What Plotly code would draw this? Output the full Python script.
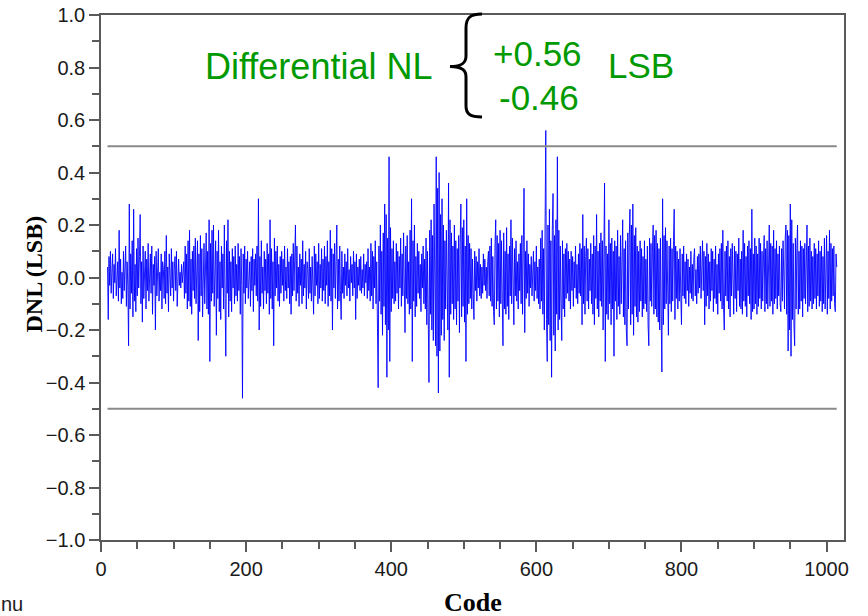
import plotly.graph_objects as go

# DNL per code, in hundredths of an LSB (codes 9 .. 1014)
dnl_centi_lsb = [
    4, -16, 8, -3, 10, -6, 2, 9, -8, 5, -2, 11, -7, 3, 6, -9, 18, -4, 7, -10,
    2, -8, 10, -5, 4, 12, -11, 6, -3, -26, 28, -12, 9, -6, 14, -15, 26, -9, 5, -13,
    11, -7, 15, -4, 8, 24, -10, 6, -17, 12, -8, 3, 10, -12, 7, -5, 13, -9, 4, 9,
    -6, 12, -14, 5, -3, 8, -20, 10, -7, 4, 11, -9, 2, -5, 9, -12, 6, 3, -8, 10,
    -10, 16, -6, 4, -13, 9, 2, -7, 11, -4, 6, -9, 3, 8, -5, 10, -11, 4, 7, -3,
    2, -4, 5, -2, 3, 6, -8, 12, -6, 9, -12, 14, -9, 18, -11, 7, -14, 10, -5,
    12, -8, 15, -10, 6, 14, -24, 9, -13, 16, -7, 11, -15, 8, 13, -10, 5, 17, -12, 10,
    -14, 22, -32, 13, -9, 18, -6, 20, -11, 7, 14, -22, 10, -8, 18, -13, 6, -16, 12, -4,
    9, -12, 20, -8, -30, 14, -6, 22, -15, 10, -9, 6, -13, 11, -4, 8, -10, 12, -7, 5,
    -9, 13, -5, 8, -14, 11, -3, -46, 9, -6, 12, -10, 7, -4, 10, -8, 3, 6, -11, 8,
    -5, 11, -13, 7, -3, 9, -7, 12, -9, 30, -20, 8, -11, 14, -6, 4, -12, 10, -5, 7,
    -10, 13, -6, 9, -14, 22, -8, 11, -12, 6, -26, 15, -7, 10, -4, 12, -9, 5, -11, 8,
    -6, 10, -3, 7, -9, 12, -5, 4, -8, 11, -4, 6, -10, 8, -14, 9, -7, 13, -5,
    8, 20, -9, 12, -6, 4, -11, 9, -3, 7, -10, 14, -7, 5, -4, 10, -12, 6, 3, -8,
    11, -6, 4, -9, 8, -5, -14, 12, -7, 9, -3, 6, -10, 13, -8, 5, -4, 11, -9, 7,
    -5, 12, -10, 8, -3, 14, -11, 6, -7, 18, -9, 11, -20, 9, -4, 13, -8, 6, 20, -12,
    7, -9, 12, -5, -16, 10, -6, 4, -8, 9, -3, 6, -7, 11, -4, 3, -9, 8, -2, 5,
    -7, 10, -4, 6, -16, 9, -8, 4, -3, 7, -5, 8, -6, 3, -4, 9, -7, 5, -2,
    6, -8, 11, -5, 4, -9, 13, -7, 10, -12, 8, -4, 14, -10, 6, -15, -42, 12, -9, 20,
    -14, 10, -22, 17, -11, 28, -18, 24, -38, 15, -20, 46, -32, 19, -13, 11, -8, 14, -10, 6,
    -9, 13, -6, 10, -12, 8, -4, 15, -11, 9, -7, 17, -13, -21, 12, -8, 16, -10, 6, -14,
    18, -12, 30, -32, 14, -9, 20, -15, 8, -11, 13, -6, 10, -8, 5, -13, 9, -4, 12, -10,
    7, -12, 15, -18, 10, -9, -40, 18, -14, 22, -20, 16, -24, 28, -18, -26, 46, -30, 34, -44,
    40, -28, 24, -22, 30, -16, 20, -24, 14, -12, 18, -15, -20, 36, -38, 22, -14, 17, -10, 12,
    -16, 20, -12, 14, -18, 11, -9, 16, -21, 13, 28, -15, 19, -11, 22, -17, 12, -32, 30, -14,
    16, -10, 13, -8, 11, -12, 7, -6, -16, 10, -5, 8, -9, 6, -4, 11, -7, 5, -8, 4,
    -6, 9, -3, 7, -5, 4, -8, 6, 10, -7, 12, -9, 15, -11, 8, -13, -18, 12, 22,
    -12, 16, -9, 13, -15, 18, -10, 14, -8, -26, 17, -12, 10, -14, 19, -11, 9, -16, 12, -7,
    22, -10, 15, -13, -18, 11, -7, 14, -9, 6, -12, 9, -5, 13, -10, 16, -14, 12, 34, -21,
    10, -8, 14, -6, 9, -11, 5, -4, 8, -7, 3, 10, -9, 6, -5, 12, -8, 4, -10, 7,
    -12, 15, -9, 18, -14, 11, -20, 24, 56, -16, -32, 20, -18, 26, -24, 14, -38, 18, 32, -22,
    16, -28, 22, -14, 46, -20, 18, -16, 12, -10, -24, 14, -12, 9, -15, 11, -8, 13, -6, 10,
    -9, 7, -12, 10, -5, 8, -11, 6, -4, 12, -8, 5, -10, 9, -6, 13, -7, 11, -18, 24,
    -10, 12, -14, 8, 15, -9, 11, -12, 7, -5, 13, -10, 9, -14, 16, -18, 12, -8, 24,
    -12, 10, -15, 13, -9, 17, -11, 14, -20, 18, 36, -32, 12, -14, 9, -16, 22, -10, 13, -18,
    15, -12, 10, -30, 14, -9, 12, -16, 18, -11, 8, -14, 16, -10, 13, 22, -15, 11, -18, 14,
    -20, -26, 17, -12, 15, 26, -18, 20, -14, 28, -22, 16, -11, 19, -15, 12, -17, 10, -13, 14,
    -9, 11, -15, 8, -12, 14, -10, 7, -13, 12, -18, -26, 15, -9, 13, -11, 10, 20, -14, 16,
    -12, 18, -15, 13, -17, 11, -20, 15, -14, -36, 30, -18, 16, -12, 19, -10, 14, -16, -22, 12,
    -10, 15, -13, 11, -9, 14, 26, -16, 12, -8, 10, -12, 7, -9, 11, -6, -18, 9, -7, 12,
    -8, 6, -10, 9, -5, 7, -11, 4, -6, 10, -8, 5, -9, 7, 11, -7, 3, -10, 8,
    -6, 9, -4, 12, -8, 6, 14, -5, 10, -18, 8, -11, 13, -7, 9, -12, 6, -9, 11, -5,
    10, -13, 7, -8, 12, -10, 5, -14, 9, -6, 11, -9, 13, -12, 18, -11, -20, 10, -7, 12,
    -9, 14, -12, 8, -15, 11, -7, 13, -10, -14, 12, -8, 10, -13, 9, -5, 15, -11, 7,
    -12, 10, -14, 18, -9, 13, -11, 8, -15, 12, -7, 14, -10, 11, -16, 26, -13, 9, -12, 15,
    -10, 12, -14, 9, -11, 15, -8, 13, -12, 10, -9, 7, 16, -13, 11, -10, 14, -12, 9, 20,
    -11, 13, -9, 12, -14, 18, -10, 11, -8, 14, -12, 9, -7, 12, -10, -13, 11, -9, 14, -8,
    -12, 15, 20, -14, 18, -28, 16, -20, 28, -30, 22, -16, 13, -18, -26, 15, -12, 11, 20, -14,
    10, -12, 14, -9, 12, -15, 11, -8, 13, -10, 9, 20, -13, 12, -11, 15, -9, 10, -12, 8,
    -10, 13, -8, 11, -12, 9, -7, 14, -11, 10, -9, 12, -13, 8, -10, 15, -12, 11, 16, -14,
    10, -8, 18, -12, 13, -9, 11, -7, 12, -10, -13, 9, 4,
]
first_code = 9
codes = [first_code + i for i in range(len(dnl_centi_lsb))]
dnl_lsb = [v / 100.0 for v in dnl_centi_lsb]

limit_lines = [0.5, -0.5]
x_ticks = [0, 200, 400, 600, 800, 1000]
y_ticks = [1.0, 0.8, 0.6, 0.4, 0.2, 0.0, -0.2, -0.4, -0.6, -0.8, -1.0]
summary_label = "Differential NL"
summary_max = "+0.56"
summary_min = "-0.46"
summary_unit = "LSB"

W, H = 868, 616
L, R, T, B = 101, 24, 15, 76
PW, PH = W - L - R, H - T - B


def px_x(x):
    return (x - L) / PW


def px_y(y):
    return (H - B - y) / PH


GREEN = "#009a00"
AXIS = "#5a5a5a"

fig = go.Figure()
fig.add_trace(go.Scatter(
    x=codes, y=dnl_lsb, mode="lines",
    line=dict(color="#0000ff", width=0.9),
    showlegend=False, hoverinfo="x+y",
))

for lv in limit_lines:
    fig.add_shape(type="line", xref="x", yref="y",
                  x0=codes[0], x1=codes[-1], y0=lv, y1=lv,
                  line=dict(color="#8a8a8a", width=2))

# curly brace (decoration)
bp = [(482, 14), (470, 14), (466, 18), (466, 28), (466, 56), (466, 63), (462, 66.5), (450, 66.5),
      (462, 67), (466, 70), (466, 77), (466, 106), (466, 114), (470, 117), (482, 117)]
q = [(px_x(a), px_y(b)) for a, b in bp]
path = (f"M {q[0][0]},{q[0][1]} C {q[1][0]},{q[1][1]} {q[2][0]},{q[2][1]} {q[3][0]},{q[3][1]} "
        f"L {q[4][0]},{q[4][1]} C {q[5][0]},{q[5][1]} {q[6][0]},{q[6][1]} {q[7][0]},{q[7][1]} "
        f"C {q[8][0]},{q[8][1]} {q[9][0]},{q[9][1]} {q[10][0]},{q[10][1]} "
        f"L {q[11][0]},{q[11][1]} C {q[12][0]},{q[12][1]} {q[13][0]},{q[13][1]} {q[14][0]},{q[14][1]}")
fig.add_shape(type="path", xref="paper", yref="paper", path=path,
              line=dict(color="black", width=3))

sans = "Liberation Sans, Arial, sans-serif"
serif = "Liberation Serif, Times New Roman, serif"


def ann(text, x, y, size, color, family=sans, angle=0, xanchor="center"):
    fig.add_annotation(text=text, xref="paper", yref="paper", x=px_x(x), y=px_y(y),
                       xanchor=xanchor, yanchor="middle", showarrow=False, textangle=angle,
                       font=dict(family=family, size=size, color=color))


ann(summary_label, 318.8, 66.3, 36, GREEN)
ann(summary_max, 537.5, 53.8, 35, GREEN)
ann(summary_min, 538.5, 97.5, 35, GREEN)
ann(summary_unit, 640.5, 65.5, 35, GREEN)
ann("<b>DNL (LSB)</b>", 33.5, 274, 24, "black", family=serif, angle=-90)
ann("<b>Code</b>", 473, 602, 26, "black", family=serif)
ann("nu", -1, 604, 20, "#222222", xanchor="left")

fig.update_layout(
    width=W, height=H,
    margin=dict(l=L, r=R, t=T, b=B, pad=0, autoexpand=False),
    paper_bgcolor="white", plot_bgcolor="white",
    font=dict(family=sans, size=20, color="#1a1a1a"),
    xaxis=dict(range=[0, 1024], tickvals=x_ticks, ticks="outside", ticklen=10, tickwidth=1.5,
               tickcolor=AXIS, showline=True, linecolor=AXIS, linewidth=1.5, mirror=True,
               showgrid=False, zeroline=False, tickfont=dict(size=20), automargin=False,
               minor=dict(dtick=50, tick0=0, ticks="outside", ticklen=7, tickwidth=1.5,
                          tickcolor=AXIS, showgrid=False)),
    yaxis=dict(range=[-1.0, 1.0], tickvals=y_ticks, tickformat=".1f", ticks="outside",
               ticklen=10, tickwidth=1.5, tickcolor=AXIS, showline=True, linecolor=AXIS,
               linewidth=1.5, mirror=True, showgrid=False, zeroline=False,
               tickfont=dict(size=20), automargin=False,
               minor=dict(dtick=0.1, tick0=0, ticks="outside", ticklen=7, tickwidth=1.5,
                          tickcolor=AXIS, showgrid=False)),
)

fig.write_html("out.html", config={"displayModeBar": False},
               post_script="document.body.style.margin='0';document.body.style.overflow='hidden';")
